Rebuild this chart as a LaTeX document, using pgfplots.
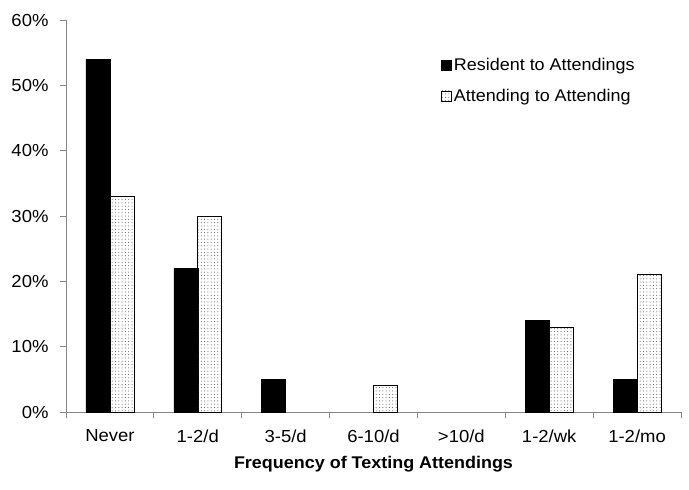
\documentclass[border=0pt]{standalone}
\usepackage{pgfplots}
\pgfplotsset{compat=1.18}
\usepackage{fontspec}
\setmainfont{Liberation Sans}[FakeStretch=1.06]
\usetikzlibrary{patterns.meta}
\definecolor{axgray}{HTML}{868686}
\begin{document}
\begin{tikzpicture}
\begin{axis}[
  scale only axis,
  width=615bp, height=392bp,
  ybar=0pt, bar width=24bp,
  xmin=-0.5, xmax=6.5, ymin=0, ymax=60,
  axis x line=bottom, axis y line=left,
  axis line style={axgray, line width=0.8bp, -},
  xtick={0,...,6},
  xticklabels={Never,1-2/d,3-5/d,6-10/d,>10/d,1-2/wk,1-2/mo},
  major x tick style={draw=none},
  minor xtick={-0.5,0.5,1.5,2.5,3.5,4.5,5.5,6.5},
  minor x tick style={axgray, line width=0.8bp},
  minor tick length=6bp,
  ytick={0,10,...,60},
  yticklabel={\pgfmathprintnumber{\tick}\%},
  y tick style={axgray, line width=0.8bp},
  major tick length=6bp,
  tick align=outside,
  /pgf/number format/assume math mode=true,
  tick label style={font=\fontsize{17.5}{20}\selectfont, black},
  xticklabel style={yshift=-8bp},
  yticklabel style={xshift=-8bp},
  xlabel={\textbf{Frequency of Texting Attendings}},
  xlabel style={font=\fontsize{17}{20}\selectfont, yshift=-7bp},
  legend style={at={(0.61,0.908)}, anchor=north west, draw=none, fill=none,
    font=\fontsize{17}{20}\selectfont, row sep=13bp, inner sep=0pt,
    /tikz/every even column/.append style={column sep=0bp}},
  legend cell align=left,
  legend image code/.code={\draw[#1, line width=0.6bp] (0bp,-5bp) rectangle (10bp,5bp);},
]
\addplot[fill=black, draw=black] coordinates {(0,54) (1,22) (2,5) (5,14) (6,5)};
\addplot[draw=black, line width=0.8bp, pattern={Dots[distance=3.3bp, radius=0.5bp]}, pattern color=black!70] coordinates {(0,33) (1,30) (3,4) (5,13) (6,21)};
\legend{Resident to Attendings, Attending to Attending}
\end{axis}
\pgfresetboundingbox
\path ([shift={(-66bp,-78bp)}]current axis.south west) rectangle +(689bp,490bp);
\end{tikzpicture}
\end{document}
